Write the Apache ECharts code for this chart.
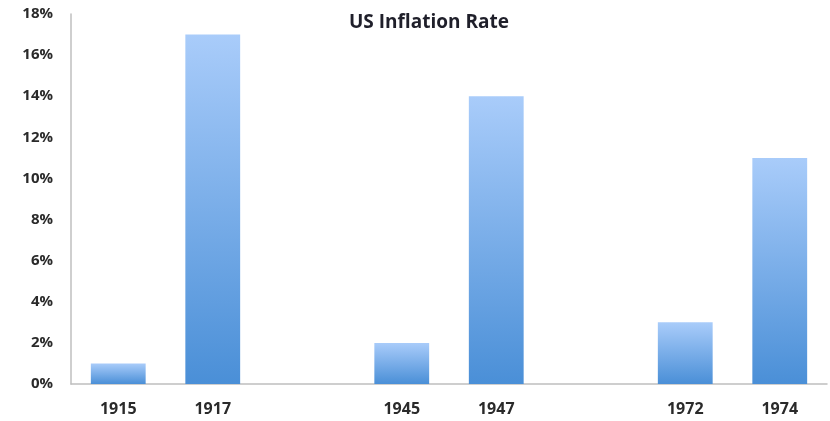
<!DOCTYPE html>
<html><head><meta charset="utf-8">
<script src="https://cdn.jsdelivr.net/npm/echarts@6/dist/echarts.min.js"></script>
<style>html,body{margin:0;padding:0;background:#fff}#c{width:830px;height:421px}</style>
</head><body><div id="c"></div>
<script>
var categories = ['1915', '1917', '', '1945', '1947', '', '1972', '1974'];
var inflation = [1, 17, null, 2, 14, null, 3, 11];
var yTicks = [0, 2, 4, 6, 8, 10, 12, 14, 16, 18];

var chart = echarts.init(document.getElementById('c'));
chart.setOption({
  animation: false,
  title: {
    text: 'US Inflation Rate', left: 344, top: 8,
    textStyle: { fontFamily: 'Open Sans', fontWeight: 'bold', fontSize: 19, color: '#1f1f2a' }
  },
  grid: { left: 71, right: 3, top: 14, bottom: 37 },
  xAxis: {
    type: 'category', data: categories,
    axisLine: { lineStyle: { color: '#bfbfbf', width: 1.5 } },
    axisTick: { show: false },
    axisLabel: { fontFamily: 'Open Sans', fontWeight: 'bold', fontSize: 16, color: '#2a2a2a', margin: 17 }
  },
  yAxis: {
    type: 'value', min: yTicks[0], max: yTicks[yTicks.length - 1], interval: 2,
    axisLine: { show: true, lineStyle: { color: '#bfbfbf', width: 1.5 } },
    axisTick: { show: false },
    splitLine: { show: false },
    axisLabel: { formatter: '{value}%', fontFamily: 'Open Sans', fontWeight: 'bold', fontSize: 15, color: '#2a2a2a', margin: 18 }
  },
  series: [{
    type: 'bar', data: inflation, barWidth: '58%',
    itemStyle: {
      color: new echarts.graphic.LinearGradient(0, 0, 0, 1, [
        { offset: 0, color: '#a9ccfa' },
        { offset: 1, color: '#4a8fd7' }
      ])
    }
  }]
});
</script></body></html>
